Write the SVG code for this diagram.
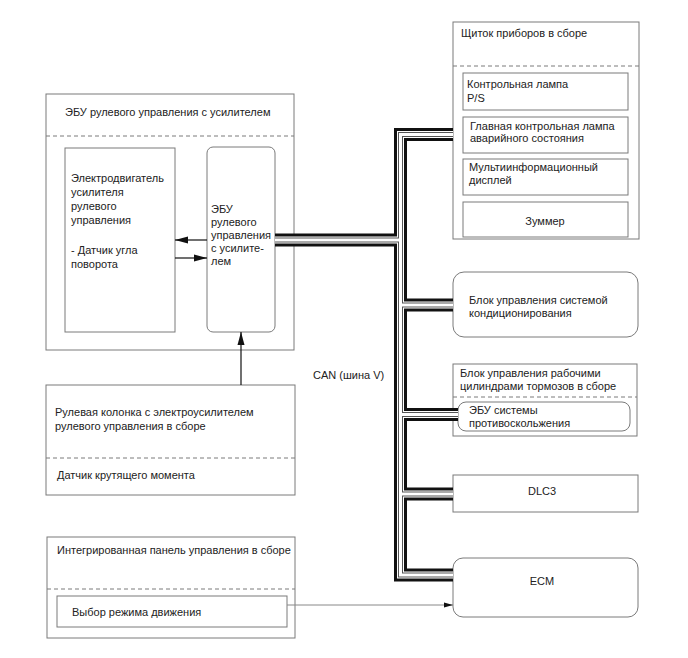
<svg xmlns="http://www.w3.org/2000/svg" width="688" height="658" viewBox="0 0 688 658">
<style>
.box{fill:#fff;stroke:#7a7a7a;stroke-width:1}
.dash{fill:none;stroke:#7a7a7a;stroke-width:1;stroke-dasharray:4,3}
text{font-family:"Liberation Sans",Arial,sans-serif;font-size:11px;fill:#222}
.c{text-anchor:middle}
.b1{fill:none;stroke:#111;stroke-width:13}
.b2{fill:none;stroke:#fff;stroke-width:7}
.b3{fill:none;stroke:#555;stroke-width:5}
.b4{fill:none;stroke:#fff;stroke-width:3}
.arr{fill:none;stroke:#111;stroke-width:1.2}
.thin{fill:none;stroke:#888;stroke-width:1}
</style>
<defs>
<marker id="ah" markerUnits="userSpaceOnUse" markerWidth="14" markerHeight="8" refX="13" refY="4" orient="auto">
<path d="M0,0.5 L13,4 L0,7.5 z" fill="#111"/>
</marker>
<marker id="ahs" markerUnits="userSpaceOnUse" markerWidth="10" markerHeight="6" refX="9" refY="3" orient="auto">
<path d="M0,0.5 L9,3 L0,5.5 z" fill="#111"/>
</marker>
</defs>

<g id="eps-ecu-assembly">
<rect class="box" x="46" y="94" width="248" height="256"/>
<line class="dash" x1="46" y1="136" x2="294" y2="136"/>
<text x="65" y="116">ЭБУ рулевого управления с усилителем</text>
</g>
<g id="motor">
<rect class="box" x="65" y="148" width="110" height="184"/>
<text x="71" y="182">Электродвигатель</text>
<text x="71" y="196">усилителя</text>
<text x="71" y="210">рулевого</text>
<text x="71" y="224">управления</text>
<text x="71" y="254">- Датчик угла</text>
<text x="71" y="268">поворота</text>
</g>
<g id="eps-ecu">
<rect class="box" x="207" y="147" width="68" height="185" rx="6"/>
<text x="211" y="213">ЭБУ</text>
<text x="211" y="226">рулевого</text>
<text x="211" y="239">управления</text>
<text x="211" y="252">с усилите-</text>
<text x="211" y="265">лем</text>
</g>
<g id="steering-column">
<rect class="box" x="46" y="385" width="249" height="110"/>
<line class="dash" x1="46" y1="458" x2="295" y2="458"/>
<text x="55" y="416">Рулевая колонка с электроусилителем</text>
<text x="55" y="430">рулевого управления в сборе</text>
<text x="57" y="479">Датчик крутящего момента</text>
</g>
<g id="integrated-panel">
<rect class="box" x="47" y="537" width="248" height="101"/>
<line class="dash" x1="47" y1="589" x2="295" y2="589"/>
<text x="57" y="554">Интегрированная панель управления в сборе</text>
<rect class="box" x="57" y="596" width="230" height="31"/>
<text x="72" y="616">Выбор режима движения</text>
</g>
<g id="instrument-cluster">
<rect class="box" x="453" y="22" width="186" height="217"/>
<line class="dash" x1="453" y1="66" x2="639" y2="66"/>
<text x="461" y="37">Щиток приборов в сборе</text>
<rect class="box" x="463" y="73" width="165" height="37"/>
<text x="467" y="88">Контрольная лампа</text>
<text x="467" y="102">P/S</text>
<rect class="box" x="463" y="117" width="165" height="36"/>
<text x="470" y="130">Главная контрольная лампа</text>
<text x="470" y="142">аварийного состояния</text>
<rect class="box" x="463" y="159" width="165" height="36"/>
<text x="469" y="171">Мультиинформационный</text>
<text x="469" y="184">дисплей</text>
<rect class="box" x="463" y="202" width="165" height="35"/>
<text class="c" x="545" y="225">Зуммер</text>
</g>
<g id="ac-ecu">
<rect class="box" x="453" y="272" width="185" height="65" rx="11"/>
<text x="469" y="304">Блок управления системой</text>
<text x="469" y="317">кондиционирования</text>
</g>
<g id="brake-assembly">
<rect class="box" x="453" y="364" width="184" height="72"/>
<line class="dash" x1="453" y1="397" x2="637" y2="397"/>
<text x="460" y="377">Блок управления рабочими</text>
<text x="460" y="390">цилиндрами тормозов в сборе</text>
<rect class="box" x="458" y="402" width="172" height="29" rx="8"/>
<text x="469" y="414">ЭБУ системы</text>
<text x="469" y="427">противоскольжения</text>
</g>
<g id="dlc3">
<rect class="box" x="453" y="475" width="185" height="37"/>
<text class="c" x="542" y="495">DLC3</text>
</g>
<g id="ecm">
<rect class="box" x="453" y="558" width="185" height="59" rx="10"/>
<text class="c" x="542" y="585">ECM</text>
</g>

<g id="connectors">
<g id="can-bus">
<path class="b1" d="M453,134.5 H400.5 V575 H453 M275,240 H400.5 M400.5,305 H453 M400.5,414.5 H458 M400.5,494 H453"/>
<path class="b2" d="M453,134.5 H400.5 V575 H453 M275,240 H400.5 M400.5,305 H453 M400.5,414.5 H458 M400.5,494 H453"/>
<path class="b3" d="M453,134.5 H400.5 V575 H453 M275,240 H400.5 M400.5,305 H453 M400.5,414.5 H458 M400.5,494 H453"/>
<path class="b4" d="M453,134.5 H400.5 V575 H453 M275,240 H400.5 M400.5,305 H453 M400.5,414.5 H458 M400.5,494 H453"/>
</g>
<line class="arr" x1="207" y1="240" x2="175" y2="240" marker-end="url(#ah)"/>
<line class="arr" x1="175" y1="258" x2="207" y2="258" marker-end="url(#ah)"/>
<line class="arr" x1="241" y1="385" x2="241" y2="332" marker-end="url(#ah)"/>
<line class="thin" x1="287" y1="605" x2="453" y2="605" marker-end="url(#ahs)"/>
</g>
<text x="313" y="379">CAN (шина V)</text>
</svg>
